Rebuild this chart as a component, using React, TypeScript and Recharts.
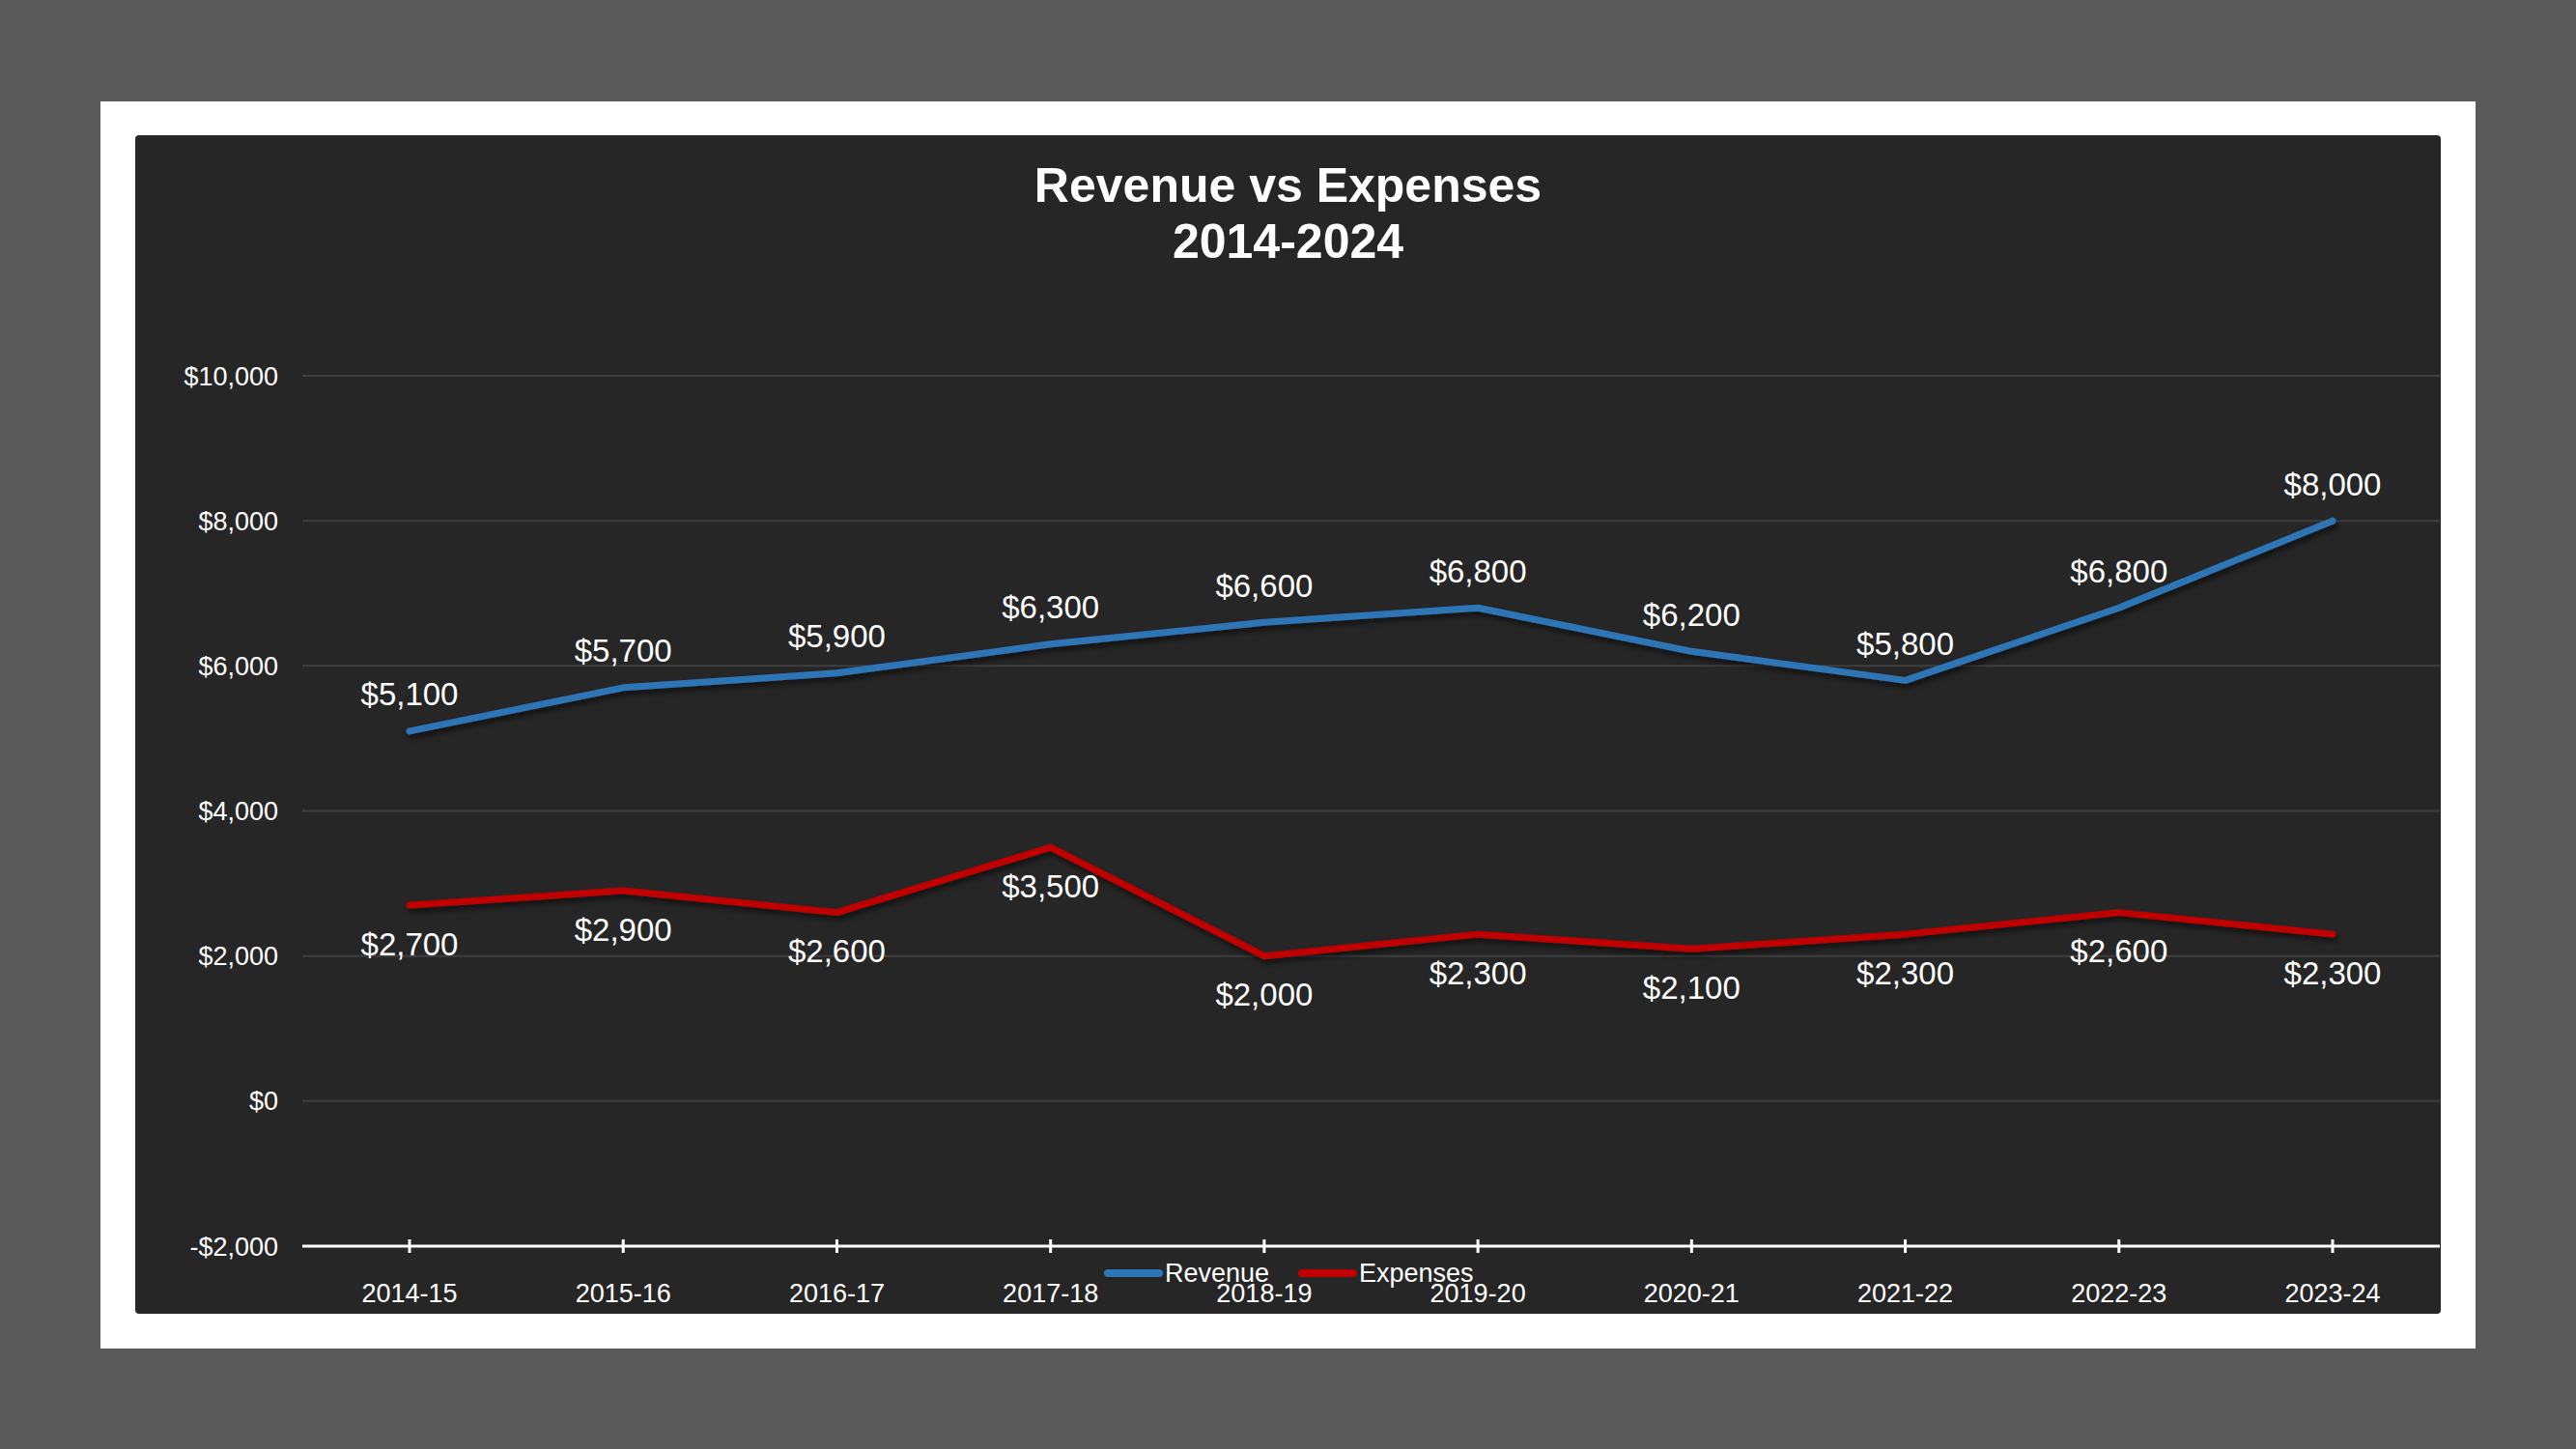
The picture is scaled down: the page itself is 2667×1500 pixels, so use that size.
import React from 'react';
import { LineChart, Line, XAxis, YAxis, CartesianGrid, Legend, LabelList } from 'recharts';

const categories = ['2014-15', '2015-16', '2016-17', '2017-18', '2018-19', '2019-20', '2020-21', '2021-22', '2022-23', '2023-24'];
const revenue = [5100, 5700, 5900, 6300, 6600, 6800, 6200, 5800, 6800, 8000];
const expenses = [2700, 2900, 2600, 3500, 2000, 2300, 2100, 2300, 2600, 2300];
const yTicks = [-2000, 0, 2000, 4000, 6000, 8000, 10000];
const seriesNames = ['Revenue', 'Expenses'];
const seriesColors = ['#2E75B6', '#C00000'];
const titleLines = ['Revenue vs Expenses', '2014-2024'];

const data = categories.map((c, i) => ({ category: c, [seriesNames[0]]: revenue[i], [seriesNames[1]]: expenses[i] }));

const FONT = '"Liberation Sans", Arial, sans-serif';
const fmt = (v: number) => (v < 0 ? '-' : '') + '$' + Math.abs(v).toLocaleString('en-US');

const XTick = (props: any) => {
  const { x, y, payload } = props;
  return (
    <g>
      <line x1={x} x2={x} y1={y - 7} y2={y + 7} stroke="#ffffff" strokeWidth={3} />
      <text x={x} y={y + 49} textAnchor="middle" dominantBaseline="central" fill="#ffffff" fontSize={27} fontFamily={FONT}>
        {payload.value}
      </text>
    </g>
  );
};

const makeLabel = (dy: number) => (props: any) => {
  const { x, y, value } = props;
  return (
    <text x={x} y={y + dy} textAnchor="middle" dominantBaseline="central" fill="#ffffff" fontSize={33} fontFamily={FONT}>
      {fmt(value)}
    </text>
  );
};

const LegendContent = (props: any) => {
  const payload = [...(props.payload || [])].sort(
    (a: any, b: any) => seriesNames.indexOf(a.value) - seriesNames.indexOf(b.value)
  );
  const starts = [0, 201];
  return (
    <svg width={420} height={40}>
      {payload.map((p: any, i: number) => (
        <g key={i}>
          <line x1={starts[i] + 4} x2={starts[i] + 57} y1={20} y2={20} stroke={p.color} strokeWidth={8} strokeLinecap="round" />
          <text x={starts[i] + 63} y={20} dominantBaseline="central" fill="#ffffff" fontSize={27} fontFamily={FONT}>
            {p.value}
          </text>
        </g>
      ))}
    </svg>
  );
};

export default function App() {
  return (
    <div style={{ position: 'fixed', left: 0, top: 0, width: 2667, height: 1500, background: '#5a5a5a', overflow: 'hidden' }}>
      <div style={{ position: 'absolute', left: 104, top: 105, width: 2459, height: 1291, background: '#ffffff' }} />
      <div style={{ position: 'absolute', left: 140, top: 140, width: 2387, height: 1220, background: '#262626', borderRadius: 4 }}>
        <div style={{ position: 'absolute', left: 0, top: 23, width: 2387, textAlign: 'center', color: '#ffffff', fontFamily: FONT, fontWeight: 'bold', fontSize: 50, lineHeight: '58px' }}>
          {titleLines.map((t, i) => (
            <div key={i}>{t}</div>
          ))}
        </div>
        <div style={{ position: 'absolute', left: 0, top: 0 }}>
          <LineChart width={2387} height={1220} data={data} margin={{ top: 249, right: 1, left: 13, bottom: 0 }}>
            <defs>
              <filter id="lineShadow" x="-5%" y="-20%" width="110%" height="140%">
                <feDropShadow dx="2" dy="4" stdDeviation="3" floodColor="#000000" floodOpacity="0.6" />
              </filter>
            </defs>
            <CartesianGrid horizontal={true} vertical={false} stroke="#3f3f3f" strokeWidth={2} />
            <XAxis
              dataKey="category"
              padding={{ left: 111, right: 111 }}
              height={70}
              axisLine={{ stroke: '#ffffff', strokeWidth: 3 }}
              tickLine={false}
              tickSize={0}
              tickMargin={0}
              tick={<XTick />}
              interval={0}
            />
            <YAxis
              width={160}
              domain={[-2000, 10000]}
              ticks={yTicks}
              tickFormatter={fmt}
              axisLine={false}
              tickLine={false}
              tickSize={0}
              tickMargin={25}
              tick={{ fill: '#ffffff', fontSize: 27, fontFamily: FONT }}
              interval={0}
            />
            <Legend
              layout="vertical"
              align="center"
              verticalAlign="middle"
              wrapperStyle={{ position: 'absolute', left: 1003, top: 1158, width: 420, height: 40 }}
              content={<LegendContent />}
            />
            <Line
              dataKey={seriesNames[0]}
              name={seriesNames[0]}
              stroke={seriesColors[0]}
              strokeWidth={7}
              strokeLinecap="round"
              strokeLinejoin="round"
              dot={false}
              activeDot={false}
              isAnimationActive={false}
              filter="url(#lineShadow)"
            >
              <LabelList dataKey={seriesNames[0]} content={makeLabel(-38)} />
            </Line>
            <Line
              dataKey={seriesNames[1]}
              name={seriesNames[1]}
              stroke={seriesColors[1]}
              strokeWidth={7}
              strokeLinecap="round"
              strokeLinejoin="round"
              dot={false}
              activeDot={false}
              isAnimationActive={false}
              filter="url(#lineShadow)"
            >
              <LabelList dataKey={seriesNames[1]} content={makeLabel(40)} />
            </Line>
          </LineChart>
        </div>
      </div>
    </div>
  );
}
